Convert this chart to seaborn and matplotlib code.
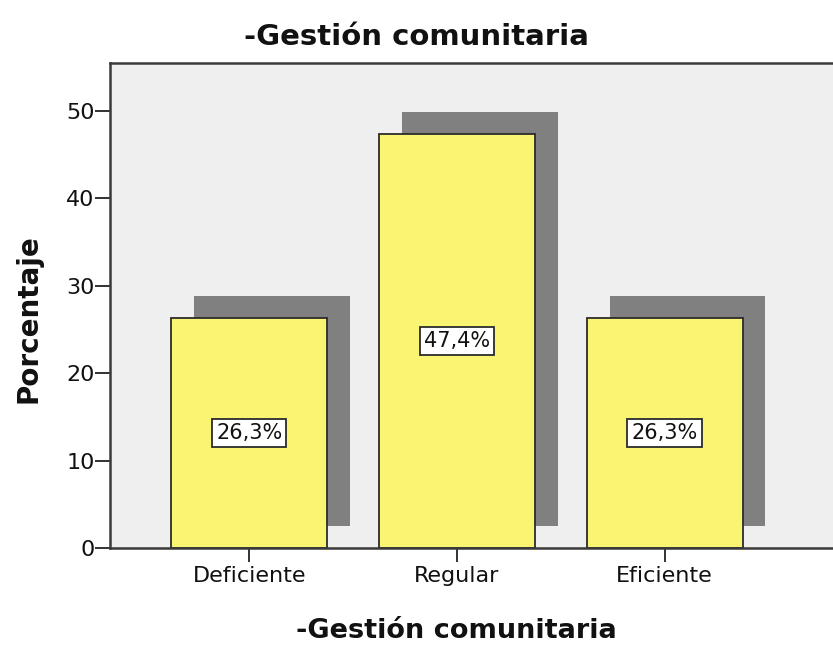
import numpy as np
import pandas as pd
import matplotlib.pyplot as plt
import seaborn as sns

# ─── Data ────────────────────────────────────────────────
categories = ["Deficiente", "Regular", "Eficiente"]
percentages = [26.3, 47.4, 26.3]
labels = ["26,3%", "47,4%", "26,3%"]

# ─── Style ───────────────────────────────────────────────
YELLOW = "#F9F573"
SHADOW = "#808080"
PANEL = "#EFEFEF"
EDGE = "#2B2B2B"

sns.set_theme(style="white")
plt.rcParams["font.family"] = ["DejaVu Sans"]

df = pd.DataFrame({"cat": categories, "pct": percentages})

fig = plt.figure(figsize=(8.33, 6.48), dpi=100)
ax = fig.add_axes([0.132, 0.154, 0.868, 0.749])
ax.set_facecolor(PANEL)

# shadows (offset copy of the bars)
x = np.arange(len(categories))
ax.bar(x + 0.11, percentages, width=0.75, bottom=2.5, color=SHADOW,
       linewidth=0, zorder=1)

sns.barplot(data=df, x="cat", y="pct", color=YELLOW, width=0.75,
            edgecolor=EDGE, linewidth=1.3, saturation=1, ax=ax, zorder=2)

for xi, val, lab in zip(x, percentages, labels):
    ax.text(xi, val / 2, lab, ha="center", va="center", fontsize=15, color="#111111",
            zorder=3,
            bbox=dict(boxstyle="square,pad=0.2", facecolor="white", edgecolor=EDGE, linewidth=1.3))

ax.set_xlim(-0.67, 2.81)
ax.set_ylim(0, 55.5)
ax.set_yticks([0, 10, 20, 30, 40, 50])
ax.tick_params(axis="both", direction="out", width=1.3, color="#222222",
               labelsize=16, labelcolor="#111111", left=True, bottom=True)
ax.tick_params(axis="y", length=11, pad=0)
ax.tick_params(axis="x", length=10, pad=3)

for side in ["left", "bottom", "top"]:
    ax.spines[side].set_color("#3A3A3A")
    ax.spines[side].set_linewidth(1.8)
ax.spines["right"].set_visible(False)

ax.set_xlabel("-Gestión comunitaria", fontsize=19.5, fontweight="bold", color="#111111")
ax.xaxis.set_label_coords(0.479, -0.144)
ax.set_ylabel("Porcentaje", fontsize=20, fontweight="bold", color="#111111")
ax.yaxis.set_label_coords(-0.093, 0.472)
fig.text(0.5, 0.943, "-Gestión comunitaria", ha="center", va="center",
         fontsize=21, fontweight="bold", color="#111111")

fig.savefig("out.png", dpi=100, facecolor="white")
